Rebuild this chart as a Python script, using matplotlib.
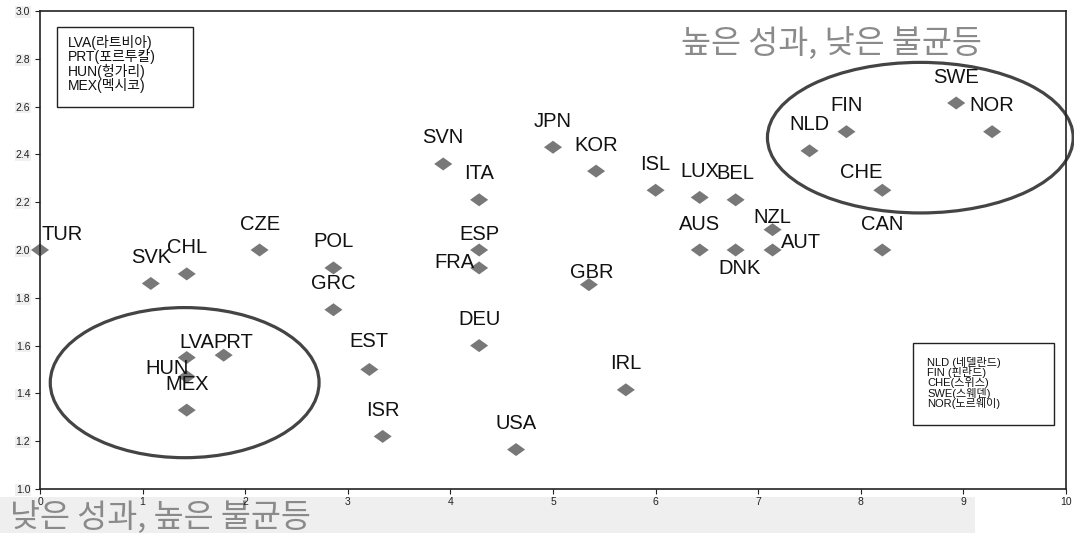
import matplotlib
matplotlib.use("Agg")
import matplotlib.pyplot as plt
from matplotlib.patches import Ellipse, Rectangle
from matplotlib.path import Path

# ---- data ----
countries = ["TUR", "SVK", "CHL", "CZE", "POL", "GRC", "LVA", "PRT", "HUN", "MEX",
             "EST", "ISR", "SVN", "ITA", "ESP", "FRA", "DEU", "USA", "JPN", "KOR",
             "GBR", "IRL", "ISL", "LUX", "BEL", "AUS", "DNK", "NZL", "AUT", "NLD",
             "FIN", "SWE", "NOR", "CHE", "CAN"]
x_vals = [0.00, 1.08, 1.43, 2.14, 2.86, 2.86, 1.43, 1.79, 1.43, 1.43,
          3.21, 3.34, 3.93, 4.28, 4.28, 4.28, 4.28, 4.64, 5.00, 5.42,
          5.35, 5.71, 6.00, 6.43, 6.78, 6.43, 6.78, 7.14, 7.14, 7.50,
          7.86, 8.93, 9.28, 8.21, 8.21]
y_vals = [2.00, 1.86, 1.90, 2.00, 1.925, 1.75, 1.55, 1.56, 1.47, 1.33,
          1.50, 1.22, 2.36, 2.21, 2.00, 1.925, 1.60, 1.165, 2.43, 2.33,
          1.855, 1.415, 2.25, 2.22, 2.21, 2.00, 2.00, 2.085, 2.00, 2.415,
          2.495, 2.615, 2.495, 2.25, 2.00]

xticks = list(range(0, 11))
yticks = [1.0, 1.2, 1.4, 1.6, 1.8, 2.0, 2.2, 2.4, 2.6, 2.8, 3.0]

box_left_lines = ["LVA(라트비아)", "PRT(포르투칼)", "HUN(헝가리)", "MEX(멕시코)"]
box_right_lines = ["NLD (네델란드)", "FIN (핀란드)", "CHE(스위스)", "SWE(스웨덴)", "NOR(노르웨이)"]
title_high = "높은 성과, 낮은 불균등"
title_low = "낮은 성과, 높은 불균등"

# label offsets (pixels) relative to each point; default centered above
label_offsets = {
    "TUR": (22, 16), "LVA": (10, 15), "PRT": (10, 13), "HUN": (-20, 8),
    "EST": (0, 28), "ESP": (0, 15), "FRA": (-25, 5), "GBR": (3, 12),
    "DNK": (4, -18), "NZL": (0, 12), "AUT": (28, 7), "CHE": (-21, 18),
}

LAT = ["Liberation Sans", "Noto Sans CJK KR", "DejaVu Sans"]
KR = ["Noto Sans CJK KR", "DejaVu Sans"]
plt.rcParams["font.family"] = LAT

W, H = 1074, 533
fig = plt.figure(figsize=(W / 100, H / 100), dpi=100)
fig.patch.set_facecolor("white")

# bottom gray band (behind axes)
band = Rectangle((0, 0), 975 / W, 36 / H, transform=fig.transFigure,
                 facecolor="#efefef", edgecolor="none", zorder=-10)
fig.patches.append(band)

ax = fig.add_axes([40 / W, (H - 489) / H, (1066 - 40) / W, (489 - 11) / H])
ax.set_zorder(1)
ax.patch.set_alpha(0)
ax.set_xlim(0, 10)
ax.set_ylim(1.0, 3.0)
for s in ax.spines.values():
    s.set_color("#222222")
    s.set_linewidth(1.2)

ax.set_xticks(xticks)
ax.set_yticks(yticks)
ax.set_xticklabels([str(t) for t in xticks])
ax.set_yticklabels([f"{t:.1f}" for t in yticks])
ax.tick_params(axis="both", labelsize=7.5, colors="#222222", length=3.5, width=0.8)
ax.tick_params(axis="x", pad=2)
for lab in ax.get_yticklabels():
    lab.set_bbox(dict(facecolor="#f0f0f0", edgecolor="none", pad=0.5))

# diamond marker (wider than tall)
diamond = Path([(-1, 0), (0, 0.72), (1, 0), (0, -0.72), (-1, 0)],
               [Path.MOVETO, Path.LINETO, Path.LINETO, Path.LINETO, Path.CLOSEPOLY])
ax.scatter(x_vals, y_vals, marker=diamond, s=13 ** 2, color="#787878",
           edgecolors="none", zorder=2, clip_on=False)

for name, x, y in zip(countries, x_vals, y_vals):
    dx, dy = label_offsets.get(name, (0, 26))
    ax.annotate(name, (x, y), xytext=(dx, dy), textcoords="offset pixels",
                ha="center", va="center", fontsize=14.5, color="#111111",
                zorder=3, annotation_clip=False)

# ellipses
ax.add_patch(Ellipse((1.41, 1.445), 2.62, 0.628, fill=False, edgecolor="#444444",
                     linewidth=2.3, clip_on=False, zorder=2))
ax.add_patch(Ellipse((8.58, 2.47), 2.98, 0.63, fill=False, edgecolor="#444444",
                     linewidth=2.3, clip_on=False, zorder=2))

# legend boxes
fig.patches.append(Rectangle((57 / W, (H - 107) / H), (193 - 57) / W, (107 - 27) / H,
                             transform=fig.transFigure, facecolor="white",
                             edgecolor="#222222", linewidth=1.0, zorder=5))
for i, t in enumerate(box_left_lines):
    fig.text(68 / W, (H - (42 + i * 14.5)) / H, t, fontsize=10, ha="left", va="center",
             color="#111111", family=LAT, zorder=6)

fig.patches.append(Rectangle((913 / W, (H - 425) / H), (1054 - 913) / W, (425 - 343) / H,
                             transform=fig.transFigure, facecolor="white",
                             edgecolor="#222222", linewidth=1.0, zorder=5))
for i, t in enumerate(box_right_lines):
    fig.text(927 / W, (H - (362 + i * 10.4)) / H, t, fontsize=8, ha="left", va="center",
             color="#111111", family=LAT, zorder=6)

# quadrant captions
fig.text(681 / W, (H - 43) / H, title_high, fontsize=23.5, color="#8a8a8a",
         ha="left", va="center", family=KR)
fig.text(10 / W, (H - 517) / H, title_low, fontsize=23.5, color="#8a8a8a",
         ha="left", va="center", family=KR, zorder=-5)

fig.savefig("out.png", dpi=100)
